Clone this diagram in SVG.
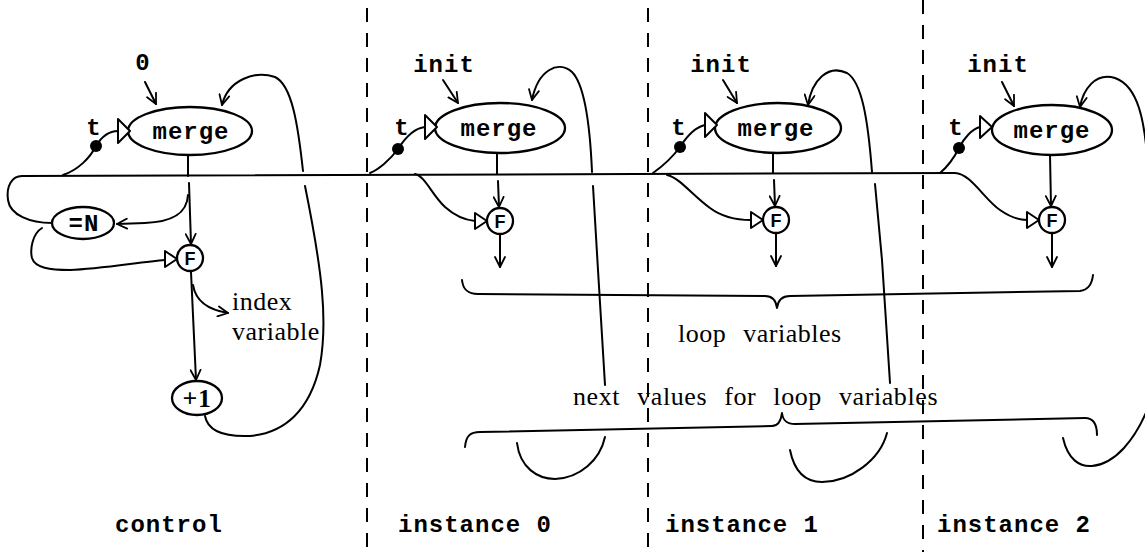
<svg xmlns="http://www.w3.org/2000/svg" width="1145" height="552" viewBox="0 0 1145 552">
<defs>
<marker id="arr" viewBox="0 0 12 12" refX="11" refY="6" markerWidth="12" markerHeight="12" markerUnits="userSpaceOnUse" orient="auto">
<path d="M1,1 L11,6 L1,11" fill="none" stroke="#000" stroke-width="1.8" stroke-linecap="round" stroke-linejoin="round"/>
</marker>
<style>
.ln{fill:none;stroke:#000;stroke-width:2;stroke-linecap:round;stroke-linejoin:round}
.dash{fill:none;stroke:#000;stroke-width:2;stroke-dasharray:14 11}
.node{fill:#fff;stroke:#000;stroke-width:2.3}
.tri{fill:#fff;stroke:#000;stroke-width:2;stroke-linejoin:round}
.dot{fill:#000}
.mono{font-family:"Liberation Mono","DejaVu Sans Mono",monospace;font-weight:bold;font-size:24px;letter-spacing:1px;fill:#000}
.serif{font-family:"Liberation Serif","Times New Roman",serif;font-size:26px;fill:#000;letter-spacing:0.5px}
.gate{font-family:"Liberation Sans",Arial,sans-serif;font-weight:bold;font-size:18px;fill:#000}
</style>
</defs>
<rect width="1145" height="552" fill="#fff"/>

<g id="dividers">
<line class="dash" x1="367" y1="8" x2="367" y2="552"/>
<line class="dash" x1="648" y1="8" x2="648" y2="552"/>
<line class="dash" x1="923" y1="0" x2="923" y2="552"/>
</g>

<g id="connectors">
<!-- main control line -->
<path class="ln" d="M22,176 L955,173 C970,173 985,200 1000,210 C1010,217 1020,220 1027,220"/>
<!-- control column -->
<path class="ln" d="M52,223 C30,223 10,215 8,200 C6,186 12,176 22,176"/>
<path class="ln" d="M42,228 C32,234 30,250 32,258 C35,268 50,270 70,270 C100,269 140,262 165,260"/>
<path class="ln" d="M63,175 C78,170 90,158 96,146 C102,136 110,131 118,131"/>
<path class="ln" d="M145,82 L156,104" marker-end="url(#arr)"/>
<path class="ln" d="M188,155 L188,176"/>
<path class="ln" d="M189,183 L191,244" marker-end="url(#arr)"/>
<path class="ln" d="M188,195 C187,215 170,222 145,223 L117,224" marker-end="url(#arr)"/>
<path class="ln" d="M191,272 L196,380" marker-end="url(#arr)"/>
<path class="ln" d="M193,285 C196,303 210,310 228,313" marker-end="url(#arr)"/>
<path class="ln" d="M205,416 C208,432 225,437 250,436 C285,433 310,410 320,365 C328,320 322,270 305,186"/>
<path class="ln" d="M303,171 C298,125 292,85 275,77 C255,70 228,80 222,105" marker-end="url(#arr)"/>
<!-- instance 0 -->
<path class="ln" d="M370,173 C378,170 390,160 398,149 C405,138 415,128 425,127"/>
<path class="ln" d="M443,80 L458,103" marker-end="url(#arr)"/>
<path class="ln" d="M415,174 C425,176 432,195 445,207 C455,216 465,220 475,221"/>
<path class="ln" d="M497,153 L497,174"/>
<path class="ln" d="M498,181 L499,207" marker-end="url(#arr)"/>
<path class="ln" d="M500,234 L500,267" marker-end="url(#arr)"/>
<path class="ln" d="M592,172 C590,125 585,85 572,72 C558,60 538,70 532,100" marker-end="url(#arr)"/>
<path class="ln" d="M593,186 L598,270 L605,385"/>
<path class="ln" d="M517,443 C520,468 538,479 555,479 C580,478 600,460 605,437"/>
<!-- instance 1 -->
<path class="ln" d="M653,173 C660,168 672,158 680,147 C687,136 696,127 705,125"/>
<path class="ln" d="M723,80 L737,103" marker-end="url(#arr)"/>
<path class="ln" d="M667,175 C680,178 692,195 710,208 C722,217 738,220 751,220"/>
<path class="ln" d="M773,153 L773,173"/>
<path class="ln" d="M774,180 L775,206" marker-end="url(#arr)"/>
<path class="ln" d="M776,233 L776,266" marker-end="url(#arr)"/>
<path class="ln" d="M872,172 C868,120 862,82 847,73 C828,64 812,80 808,105" marker-end="url(#arr)"/>
<path class="ln" d="M875,184 L882,260 L890,383"/>
<path class="ln" d="M790,450 C795,475 808,482 822,482 C850,482 880,460 887,433"/>
<!-- instance 2 -->
<path class="ln" d="M940,173 C946,168 954,158 959,148 C964,138 972,129 980,127"/>
<path class="ln" d="M1002,82 L1014,106" marker-end="url(#arr)"/>
<path class="ln" d="M1050,155 L1051,206" marker-end="url(#arr)"/>
<path class="ln" d="M1052,234 L1052,267" marker-end="url(#arr)"/>
<path class="ln" d="M1148,168 C1145,120 1138,86 1115,78 C1095,72 1083,90 1080,107" marker-end="url(#arr)"/>
<path class="ln" d="M1063,438 C1068,460 1080,467 1092,466 C1115,464 1135,440 1148,408"/>
<!-- braces -->
<path class="ln" d="M462,280 C463,290 468,294 478,294 L765,296 C772,296 776,300 777,308 C778,300 782,296 790,296 L1080,291 C1088,290 1092,284 1093,275"/>
<path class="ln" d="M465,447 C466,436 470,432 480,432 L772,426 C778,426 781,421 782,413 C783,421 787,424 795,424 L1085,418 C1093,418 1097,424 1097,435"/>
</g>

<g id="control-merge">
<ellipse class="node" cx="190" cy="131" rx="62" ry="24"/>
<text class="mono" x="191" y="139" text-anchor="middle">merge</text>
<polygon class="tri" points="118,119 130,131 118,143"/>
<circle class="dot" cx="96" cy="146" r="6"/>
<text class="mono" x="94" y="135" text-anchor="middle">t</text>
<text class="mono" x="143" y="70" text-anchor="middle">0</text>
</g>
<g id="control-eqN">
<ellipse class="node" cx="83" cy="223" rx="31" ry="16"/>
<text class="mono" x="84" y="231" text-anchor="middle" font-size="22">=N</text>
</g>
<g id="control-F">
<circle class="node" cx="190" cy="258" r="13"/>
<text class="gate" x="190" y="264.5" text-anchor="middle">F</text>
<polygon class="tri" points="165,251 177,259 165,267"/>
</g>
<g id="control-inc">
<ellipse class="node" cx="197" cy="398" rx="25" ry="17"/>
<text class="serif" x="197" y="407" text-anchor="middle" font-weight="bold" font-size="24">+1</text>
</g>
<g id="index-label">
<text class="serif" x="232" y="310">index</text>
<text class="serif" x="232" y="340">variable</text>
</g>

<g id="inst0-merge">
<ellipse class="node" cx="500" cy="128" rx="65" ry="25"/>
<text class="mono" x="499" y="136" text-anchor="middle">merge</text>
<polygon class="tri" points="425,115 437,127 425,139"/>
<circle class="dot" cx="398" cy="149" r="6"/>
<text class="mono" x="402" y="135" text-anchor="middle">t</text>
<text class="mono" x="444" y="72" text-anchor="middle">init</text>
</g>
<g id="inst0-F">
<circle class="node" cx="500" cy="221" r="13"/>
<text class="gate" x="500" y="227.5" text-anchor="middle">F</text>
<polygon class="tri" points="475,213 487,221 475,229"/>
</g>

<g id="inst1-merge">
<ellipse class="node" cx="778" cy="128" rx="63" ry="25"/>
<text class="mono" x="776" y="136" text-anchor="middle">merge</text>
<polygon class="tri" points="705,113 717,125 705,137"/>
<circle class="dot" cx="680" cy="147" r="6"/>
<text class="mono" x="679" y="135" text-anchor="middle">t</text>
<text class="mono" x="721" y="72" text-anchor="middle">init</text>
</g>
<g id="inst1-F">
<circle class="node" cx="776" cy="220" r="13"/>
<text class="gate" x="776" y="226.5" text-anchor="middle">F</text>
<polygon class="tri" points="751,212 763,220 751,228"/>
</g>

<g id="inst2-merge">
<ellipse class="node" cx="1052" cy="130" rx="60" ry="25"/>
<text class="mono" x="1052" y="138" text-anchor="middle">merge</text>
<polygon class="tri" points="980,116 992,127 980,138"/>
<circle class="dot" cx="959" cy="148" r="6"/>
<text class="mono" x="956" y="135" text-anchor="middle">t</text>
<text class="mono" x="998" y="72" text-anchor="middle">init</text>
</g>
<g id="inst2-F">
<circle class="node" cx="1052" cy="220" r="13"/>
<text class="gate" x="1052" y="226.5" text-anchor="middle">F</text>
<polygon class="tri" points="1027,212 1039,220 1027,228"/>
</g>

<g id="brace-labels">
<text class="serif" x="678" y="342" word-spacing="10">loop variables</text>
<text class="serif" x="573" y="405" word-spacing="10" textLength="365" lengthAdjust="spacing">next values for loop variables</text>
</g>

<g id="column-labels">
<text class="mono" x="115" y="532">control</text>
<text class="mono" x="398" y="532">instance 0</text>
<text class="mono" x="665" y="532">instance 1</text>
<text class="mono" x="937" y="532">instance 2</text>
</g>
</svg>
